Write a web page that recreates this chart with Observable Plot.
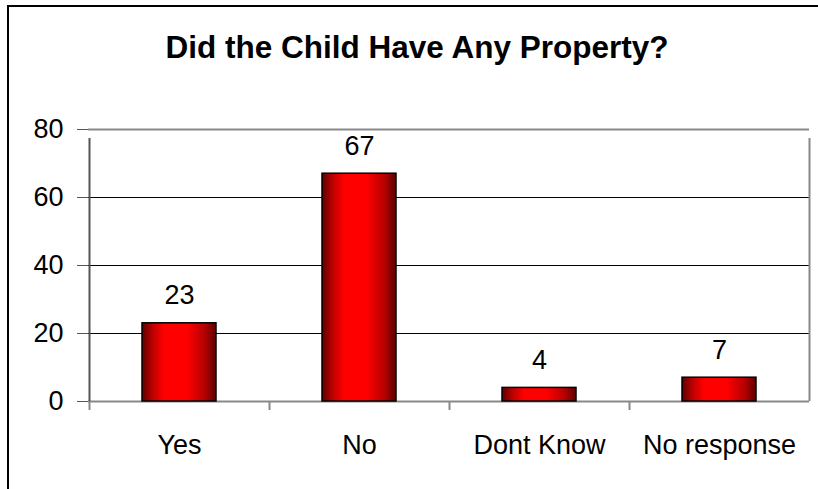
<!DOCTYPE html>
<html>
<head>
<meta charset="utf-8">
<script src="https://cdn.jsdelivr.net/npm/d3@7"></script>
<script src="https://cdn.jsdelivr.net/npm/@observablehq/plot@0.6"></script>
<style>
  html, body { margin: 0; padding: 0; background: #fff; overflow: hidden; }
  #wrap { position: relative; width: 818px; height: 489px; }
  #border { position: absolute; left: 7px; top: 5px; width: 830px; height: 500px;
            border-left: 2px solid #000; border-top: 2px solid #000; pointer-events: none; }
</style>
</head>
<body>
<div id="wrap"><div id="border"></div></div>
<script>
const title = "Did the Child Have Any Property?";
const categories = ["Yes", "No", "Dont Know", "No response"];
const values = [23, 67, 4, 7];
const yTicks = [0, 20, 40, 60, 80];
const gridLines = [20, 40, 60];

const data = categories.map((c, i) => ({category: c, value: values[i]}));
const font = "'Liberation Sans', Arial, sans-serif";
const gray = "#888";

const plot = Plot.plot({
  width: 818,
  height: 489,
  marginLeft: 88,
  marginRight: 9,
  marginTop: 129,
  marginBottom: 88,
  style: {fontFamily: font, fontSize: "27px", color: "#000", background: "transparent"},
  x: {domain: categories, paddingInner: 0.59, paddingOuter: 0.295, label: null},
  y: {domain: [0, 80], label: null},
  marks: [
    Plot.ruleY(gridLines, {stroke: "#000", strokeWidth: 1}),
    Plot.ruleY([80], {stroke: gray, strokeWidth: 2}),
    Plot.ruleY([0], {stroke: gray, strokeWidth: 2}),
    Plot.ruleX(categories, {x: d => d, dx: -90, y1: 0, y2: 0, insetBottom: -9, stroke: gray, strokeWidth: 2}),
    Plot.ruleX([categories[0]], {x: d => d, dx: -90, y1: 0, y2: 80, insetBottom: -9, stroke: "#555", strokeWidth: 2}),
    Plot.ruleX([categories[categories.length - 1]], {x: d => d, dx: 90, y1: 0, y2: 80, insetBottom: -9, stroke: gray, strokeWidth: 2}),
    Plot.barY(data, {x: "category", y: "value", fill: "url(#redgrad)", stroke: "#000", strokeWidth: 1.5}),
    Plot.text(data, {x: "category", y: "value", text: d => String(d.value), lineAnchor: "bottom", dy: -19, fontSize: 27, fill: "#000"}),
    Plot.axisY({ticks: yTicks, tickSize: 11, tickPadding: 14, fontSize: 27, stroke: "#555", tickFormat: d => String(d)}),
    Plot.axisX({tickSize: 0, tickPadding: 33, fontSize: 27}),
    Plot.text([title], {text: d => d, frameAnchor: "top", dx: -32, dy: -72, lineAnchor: "bottom", fontSize: 31.5, fontWeight: "bold", fill: "#000"})
  ]
});

const svg = d3.select(plot);
const defs = svg.insert("defs", ":first-child");
const g = defs.append("linearGradient").attr("id", "redgrad").attr("x1", "0").attr("x2", "1").attr("y1", "0").attr("y2", "0");
[[0, "#600000"], [0.15, "#c00000"], [0.3, "#ff0000"], [0.6, "#ff0000"], [0.85, "#b40000"], [1, "#5c0000"]]
  .forEach(([o, c]) => g.append("stop").attr("offset", o).attr("stop-color", c));

document.getElementById("wrap").prepend(plot);
</script>
</body>
</html>
